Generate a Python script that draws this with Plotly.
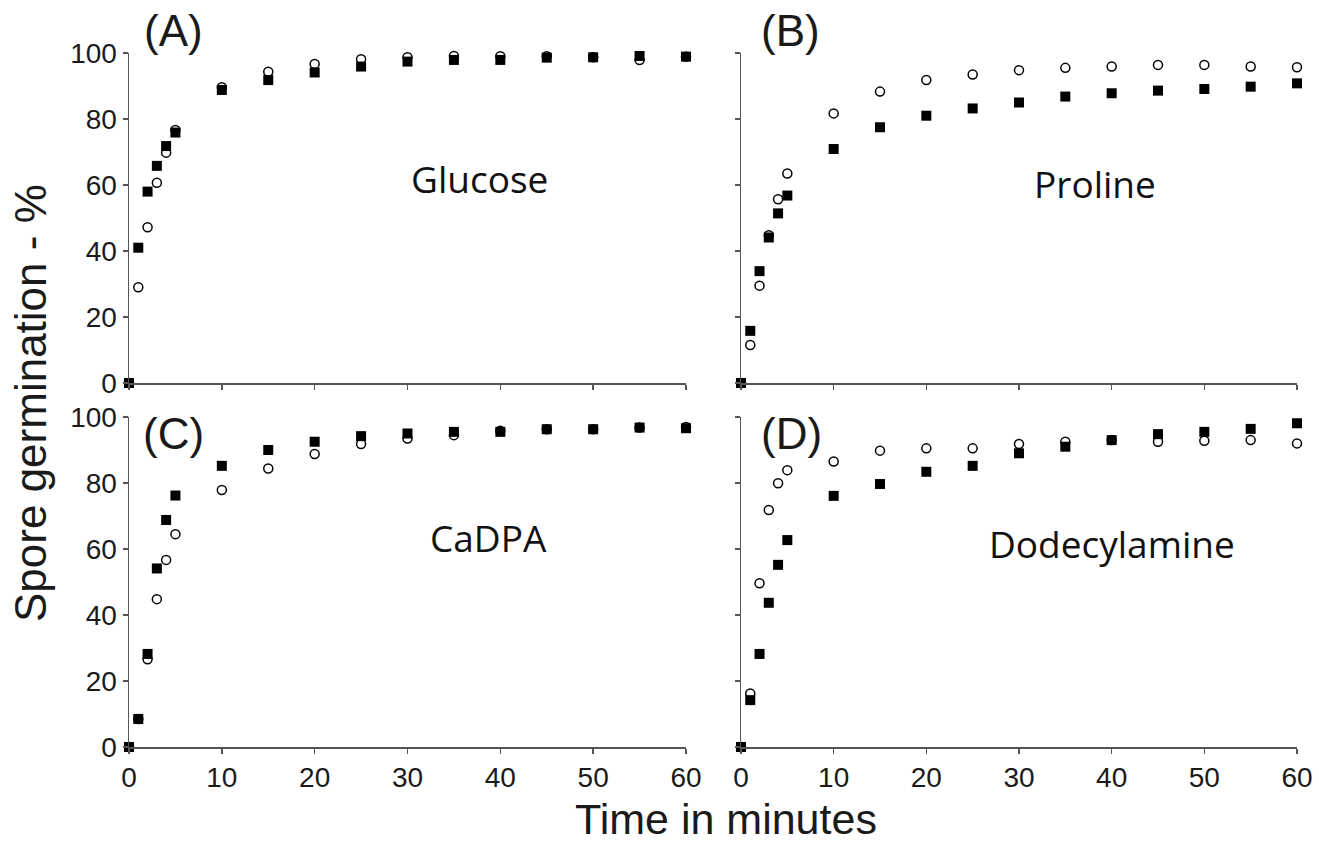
import plotly.graph_objects as go

time_min = [0, 1, 2, 3, 4, 5, 10, 15, 20, 25, 30, 35, 40, 45, 50, 55, 60]

glucose_sq = [0, 41, 58, 65.8, 71.8, 75.9, 88.8, 91.8, 94.1, 95.9, 97.4, 97.9, 97.9, 98.6, 98.7, 99.1, 98.9]
glucose_ci = [0, 29, 47.2, 60.7, 69.8, 76.7, 89.6, 94.3, 96.7, 98.1, 98.7, 99.1, 99.0, 99.0, 98.7, 97.9, 98.9]

proline_sq = [0, 15.8, 33.9, 44.1, 51.4, 56.8, 70.9, 77.5, 81.0, 83.2, 85.0, 86.8, 87.8, 88.6, 89.1, 89.8, 90.8]
proline_ci = [0, 11.5, 29.5, 44.8, 55.7, 63.5, 81.7, 88.3, 91.8, 93.5, 94.8, 95.5, 95.9, 96.4, 96.4, 95.9, 95.7]

cadpa_sq = [0, 8.5, 28.2, 54.1, 68.8, 76.2, 85.2, 90.0, 92.5, 94.2, 95.0, 95.5, 95.5, 96.3, 96.3, 96.8, 96.6]
cadpa_ci = [0, 8.5, 26.6, 44.8, 56.7, 64.5, 77.9, 84.4, 88.8, 91.8, 93.5, 94.5, 95.8, 96.3, 96.3, 96.8, 97.0]

dodec_sq = [0, 14.2, 28.2, 43.7, 55.2, 62.7, 76.1, 79.7, 83.4, 85.2, 89.0, 91.0, 93.0, 94.8, 95.5, 96.4, 98.1]
dodec_ci = [0, 16.2, 49.6, 71.8, 79.9, 83.9, 86.5, 89.8, 90.5, 90.5, 91.8, 92.5, 93.0, 92.5, 92.8, 93.0, 92.0]

panel_names = ["Glucose", "Proline", "CaDPA", "Dodecylamine"]
panel_letters = ["(A)", "(B)", "(C)", "(D)"]
y_ticks = [0, 20, 40, 60, 80, 100]
x_ticks = [0, 10, 20, 30, 40, 50, 60]

W, H = 1319, 847
series = [(glucose_ci, glucose_sq), (proline_ci, proline_sq), (cadpa_ci, cadpa_sq), (dodec_ci, dodec_sq)]

# pixel domains
col_x = [(129, 686), (741, 1297)]
row_y = [(53, 383), (417, 747)]

fig = go.Figure()
axis_color = "#555555"
tick_font = dict(family="Arial, Liberation Sans, sans-serif", size=28, color="#1a1a1a")

layout = dict(
    template="none",
    width=W, height=H, autosize=False,
    margin=dict(l=0, r=0, t=0, b=0, pad=0, autoexpand=False),
    paper_bgcolor="white", plot_bgcolor="white",
    showlegend=False,
)

for i, (ci, sq) in enumerate(series):
    r, c = divmod(i, 2)
    k = i + 1
    xa = "x" if k == 1 else f"x{k}"
    ya = "y" if k == 1 else f"y{k}"
    fig.add_trace(go.Scatter(x=time_min, y=ci, mode="markers", xaxis=xa, yaxis=ya,
                             cliponaxis=False, hoverinfo="skip",
                             marker=dict(symbol="circle", size=9, color="white",
                                         line=dict(color="black", width=1.5))))
    fig.add_trace(go.Scatter(x=time_min, y=sq, mode="markers", xaxis=xa, yaxis=ya,
                             cliponaxis=False, hoverinfo="skip",
                             marker=dict(symbol="square", size=10, color="black",
                                         line=dict(width=0))))
    x0, x1 = col_x[c]
    y0, y1 = row_y[r]
    xkey = "xaxis" if k == 1 else f"xaxis{k}"
    ykey = "yaxis" if k == 1 else f"yaxis{k}"
    layout[xkey] = dict(
        domain=[x0 / W, x1 / W], anchor=ya, range=[0, 60], automargin=False,
        tickvals=x_ticks, showticklabels=(r == 1),
        ticks="outside", ticklen=5, tickwidth=1.5, tickcolor=axis_color,
        showline=True, linecolor=axis_color, linewidth=1.5,
        showgrid=False, zeroline=False, tickfont=tick_font, fixedrange=True,
    )
    layout[ykey] = dict(
        domain=[1 - y1 / H, 1 - y0 / H], anchor=xa, range=[0, 100], automargin=False,
        tickvals=y_ticks, showticklabels=(c == 0),
        ticks="outside", ticklen=5, tickwidth=1.5, tickcolor=axis_color,
        showline=True, linecolor=axis_color, linewidth=1.5,
        showgrid=False, zeroline=False, tickfont=tick_font, fixedrange=True,
    )

annotations = []
letter_pos = [(173, 31), (790, 31), (173, 433), (791, 433)]
name_pos = [(479, 178), (1095, 183), (488, 537), (1112, 543)]
for i in range(4):
    lx, ly = letter_pos[i]
    annotations.append(dict(text=panel_letters[i], x=lx / W, y=1 - ly / H, xref="paper", yref="paper",
                            showarrow=False, xanchor="center", yanchor="middle",
                            font=dict(family="Arial, Liberation Sans, sans-serif", size=44, color="#1a1a1a")))
    nx, ny = name_pos[i]
    annotations.append(dict(text=panel_names[i], x=nx / W, y=1 - ny / H, xref="paper", yref="paper",
                            showarrow=False, xanchor="center", yanchor="middle",
                            font=dict(family="Open Sans, sans-serif", size=37, color="#111111")))

annotations.append(dict(text="Time in minutes", x=726 / W, y=1 - 819 / H, xref="paper", yref="paper",
                        showarrow=False, xanchor="center", yanchor="middle",
                        font=dict(family="Arial, Liberation Sans, sans-serif", size=43, color="#1a1a1a")))
annotations.append(dict(text="Spore germination - %", x=30 / W, y=1 - 403 / H, xref="paper", yref="paper",
                        showarrow=False, xanchor="center", yanchor="middle", textangle=-90,
                        font=dict(family="Arial, Liberation Sans, sans-serif", size=44, color="#1a1a1a")))
layout["annotations"] = annotations

fig.update_layout(**layout)
fig.write_html("out.html", config={"displayModeBar": False, "staticPlot": True},
               post_script="document.body.style.margin='0';document.body.style.overflow='hidden';")
